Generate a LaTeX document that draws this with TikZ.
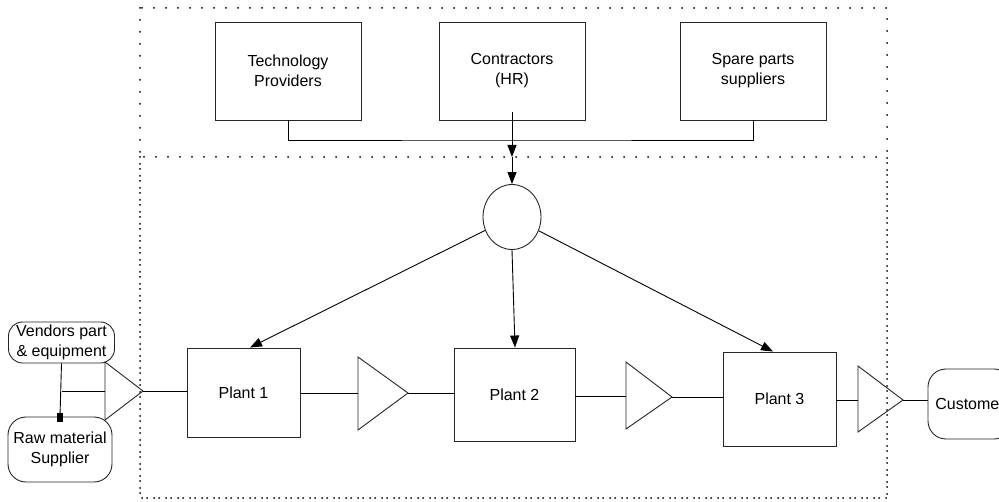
\documentclass[tikz,border=0pt]{standalone}
\usepackage{fontspec}
\setmainfont{Liberation Sans}
\usetikzlibrary{arrows.meta,shapes.geometric}
\tikzset{
  box/.style={draw=black!85, line width=0.9pt, align=center, inner sep=0pt,
    font=\fontsize{16}{20}\selectfont},
  pill/.style={box, rounded corners=18pt},
  dotline/.style={line width=2pt, dash pattern=on 0pt off 12pt, line cap=round},
  wire/.style={draw=black, line width=0.9pt},
  arr/.style={wire, -{Triangle[length=12pt,width=9pt]}},
  amp/.style={draw=black!85, line width=0.9pt, line join=miter},
}
\begin{document}
\begin{tikzpicture}[x=1pt,y=-1pt]
\useasboundingbox (0,0) rectangle (999,502);

% dotted enclosures
\draw[dotline] (140,8) rectangle (887,498);
\draw[dotline] (140,157) rectangle (887,498);

% external providers
\node[box, minimum width=146pt, minimum height=98pt] (tech) at (288,71) {Technology\\Providers};
\node[box, minimum width=146pt, minimum height=98pt] (ctr) at (512,71) {Contractors\\(HR)};
\node[box, minimum width=146pt, minimum height=98pt] (spare) at (753,71) {Spare parts\\suppliers};

% hub
\node[ellipse, draw=black!85, line width=0.9pt, minimum width=58pt, minimum height=65pt, inner sep=0pt] (hub) at (512,217) {};

% plants
\node[box, minimum width=113pt, minimum height=89pt] (p1) at (243.5,392.5) {Plant 1};
\node[box, minimum width=121pt, minimum height=93pt] (p2) at (514.5,394.5) {Plant 2};
\node[box, minimum width=113pt, minimum height=94pt] (p3) at (779.5,399) {Plant 3};

% suppliers and customer
\node[pill, rounded corners=14pt, minimum width=106pt, minimum height=41pt] (vend) at (61.5,342.5) {Vendors part\\\& equipment};
\node[pill, minimum width=104pt, minimum height=65pt] (raw) at (60,449.5) {Raw material\\Supplier};
\node[pill, minimum width=84pt, minimum height=70pt] (cust) at (970,404) {Customer};

% buffer triangles
\coordinate (t1in) at (105,391); \coordinate (t1out) at (143,391);
\coordinate (t2in) at (358,393); \coordinate (t2out) at (408,393);
\coordinate (t3in) at (626,396); \coordinate (t3out) at (672,397);
\coordinate (t4in) at (858,400); \coordinate (t4out) at (903,400);
\draw[amp] (105,362) -- (t1out) -- (105,420) -- cycle;
\draw[amp] (358,357) -- (t2out) -- (358,430) -- cycle;
\draw[amp] (626,362) -- (t3out) -- (626,429) -- cycle;
\draw[amp] (858,366) -- (t4out) -- (858,432) -- cycle;

% bus from providers
\coordinate (bus) at (512,140);
\coordinate (gate) at (512,157);
\draw[wire] (tech.south) |- (bus) -| (spare.south);
\draw[arr] ([yshift=8pt]ctr.south) -- (gate);
\draw[arr] (gate) -- (hub.north);

% hub to plants
\draw[arr] (hub) -- ([xshift=6.5pt]p1.north);
\draw[arr] (hub.south) -- ([xshift=0.5pt]p2.north);
\draw[arr] (hub) -- ([xshift=-6.5pt]p3.north);

% material flow
\coordinate (vj) at (vend.south |- t1in);
\draw[wire] (vend.south) -- (raw.north);
\fill ([xshift=-3pt,yshift=4pt]raw.north) rectangle ++(6,9);
\draw[wire] (vj) -- (t1in);
\draw[wire] (t1out) -- (t1out -| p1.west);
\draw[wire] (p1.east |- t2in) -- (t2in);
\draw[wire] (t2out) -- (t2out -| p2.west);
\draw[wire] (p2.east |- t3in) -- (t3in);
\draw[wire] (t3out) -- (t3out -| p3.west);
\draw[wire] (p3.east |- t4in) -- (t4in);
\draw[wire] (t4out) -- (t4out -| cust.west);
\end{tikzpicture}
\end{document}
